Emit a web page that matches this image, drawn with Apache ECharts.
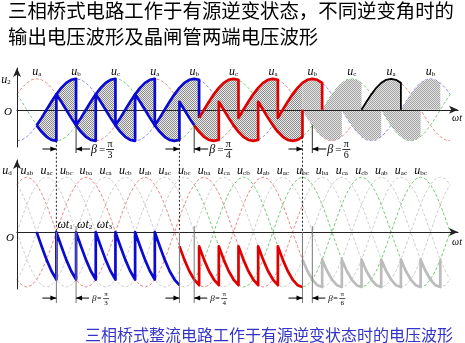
<!DOCTYPE html>
<html><head><meta charset="utf-8">
<script src="https://cdn.jsdelivr.net/npm/echarts@6/dist/echarts.min.js"></script>
<style>html,body{margin:0;padding:0;background:#fff;}#c{width:465px;height:343px;}</style>
</head><body><div id="c"></div>
<script>
// ================= data =================
const titleLines = ['三相桥式电路工作于有源逆变状态，不同逆变角时的', '输出电压波形及晶闸管两端电压波形'];
const captionText = '三相桥式整流电路工作于有源逆变状态时的电压波形';
// one period of a phase voltage, read every 15° (unit = phase peak)
const waveShape = [0, 0.26, 0.5, 0.71, 0.87, 0.97, 1, 0.97, 0.87, 0.71, 0.5, 0.26,
                   0, -0.26, -0.5, -0.71, -0.87, -0.97, -1, -0.97, -0.87, -0.71, -0.5, -0.26];
const stepDeg = 15;
const phaseNames = ['a', 'b', 'c'];
const phaseLag = [0, 120, 240];
const axisTheta = [30, 1374];
const curveTheta = [30, 1350];
const waveStart = 90, waveEnd = 1320;
const initialUpper = 'c', initialLower = 'b';
// commutation (firing) instants, phase taken over, group (P = upper, N = lower)
const firingTheta = [150, 210, 270, 330, 390, 450, 525, 585, 645, 705, 765, 825, 900, 960, 1020, 1080, 1140, 1200, 1260, 1320];
const firingPhase = ['a','c','b','a','c','b','a','c','b','a','c','b','a','c','b','a','c','b','a','c'];
const firingGroup = ['P','N','P','N','P','N','P','N','P','N','P','N','P','N','P','N','P','N','P','N'];
// colour sections
const upperOutlineRanges = [[90, 570], [570, 900]];
const lowerOutlineRanges = [[90, 585], [585, 960]];
const highlightRange = [1080, 1200];
const udRanges = [[90, 525], [525, 900], [900, 1320]];
const shadeRanges = [[90, 900], [900, 1260, 1320]];
// beta marks
const betaFiring = [150, 525, 900];
const betaDeg = [60, 45, 30];
const betaDen = ['3', '4', '6'];
// labels
const phaseLabelTheta = [90, 210, 330, 450, 570, 690, 810, 930, 1050, 1170, 1290];
const phaseLabelName = ['a','b','c','a','b','c','a','b','c','a','b'];
const lineLabelTheta = [60,120,180,240,300,360,420,480,540,600,660,720,780,840,900,960,1020,1080,1140,1200,1260];
const lineLabelName = ['ab','ac','bc','ba','ca','cb','ab','ac','bc','ba','ca','cb','ab','ac','bc','ba','ca','cb','ab','ac','bc'];
const omegaLabelTheta = [150, 210, 270];
const lineNames = ['ab','ac','bc','ba','ca','cb'];
const lineHighlightName = ['ab','ba','bc','cb'];
const lineHighlightRange = [[30, 900], [30, 900], [570, 1350], [570, 1350]];

// ================= styles =================
const C_BLUE = '#0a0ad2', C_RED = '#e00000', C_GRAY = '#bcbcbc';
const phaseDashColor = ['#ea7a7a', '#7a7aea', '#6cc86c'];
const lineDashGray = '#c8c8c8';
const lineHighlightColor = ['#e47a7a', '#e47a7a', '#66c466', '#66c466'];
const phaseLabelLevel = 1.25, lineLabelLevel = 1.96;
const serif = '"Liberation Serif","DejaVu Serif",serif';
const cjk = '"Noto Sans CJK SC","Noto Sans CJK JP",sans-serif';

// ================= build tables =================
function phaseV(ph, t) {
  const k = phaseNames.indexOf(ph);
  const n = waveShape.length;
  let i = Math.round((t - phaseLag[k]) / stepDeg) % n;
  if (i < 0) i += n;
  return waveShape[i];
}
const states = [];
(function () {
  let up = initialUpper, lo = initialLower;
  for (let t = waveStart; t <= waveEnd; t += stepDeg) {
    const f = firingTheta.indexOf(t);
    if (f >= 0) {
      states.push([t, up, lo]);
      if (firingGroup[f] === 'P') up = firingPhase[f]; else lo = firingPhase[f];
    }
    states.push([t, up, lo]);
  }
})();
const uP = states.map(s => [s[0], phaseV(s[1], s[0])]);
const uN = states.map(s => [s[0], phaseV(s[2], s[0])]);
const ud = states.map(s => [s[0], +(phaseV(s[1], s[0]) - phaseV(s[2], s[0])).toFixed(3)]);

function slice(pts, t0, t1, keepEndJump) {
  const out = [];
  for (let i = 0; i < pts.length; i++) {
    const t = pts[i][0];
    if (t < t0 || t > t1) continue;
    if (t === t0 && i + 1 < pts.length && pts[i + 1][0] === t0) continue;
    if (t === t1 && !keepEndJump && i > 0 && pts[i - 1][0] === t1) continue;
    out.push(pts[i]);
  }
  return out;
}
function curve(fn) {
  const out = [];
  for (let t = curveTheta[0]; t <= curveTheta[1]; t += stepDeg) out.push([t, +fn(t).toFixed(3)]);
  return out;
}

// shaded polygons between the upper and lower envelopes
const shadePolys = [
  slice(uP, shadeRanges[0][0], shadeRanges[0][1], false)
    .concat(slice(uN, shadeRanges[0][0], shadeRanges[0][1], false).reverse()),
  slice(uP, shadeRanges[1][0], shadeRanges[1][1], true)
    .concat([[shadeRanges[1][2], 0]])
    .concat(slice(uN, shadeRanges[1][0], shadeRanges[1][2], false).reverse())
];
function makePattern(c1, c2) {
  const cv = document.createElement('canvas');
  cv.width = 2; cv.height = 2;
  const ctx = cv.getContext('2d');
  ctx.fillStyle = c2; ctx.fillRect(0, 0, 2, 2);
  ctx.fillStyle = c1; ctx.fillRect(0, 0, 1, 1); ctx.fillRect(1, 1, 1, 1);
  return {image: cv, repeat: 'repeat'};
}
const shadeFills = [makePattern('#8a8a8a', '#ececec'), makePattern('#a4a4a4', '#e2e2e2')];

// ================= series =================
function lineS(grid, data, color, width, dashed, z) {
  return {type: 'line', xAxisIndex: grid, yAxisIndex: grid, data: data, showSymbol: false, symbol: 'none',
    silent: true, animation: false, z: z, emphasis: {disabled: true},
    lineStyle: {color: color, width: width, type: dashed ? [3, 2] : 'solid', join: 'round', cap: 'butt'}};
}
const series = [];
// top: dashed phase voltages
phaseNames.forEach((ph, k) => series.push(lineS(0, curve(t => phaseV(ph, t)), phaseDashColor[k], 0.9, true, 1)));
// top: shading
series.push({type: 'custom', xAxisIndex: 0, yAxisIndex: 0, z: 2, silent: true, animation: false,
  data: shadePolys.map((p, i) => [p[0][0], 0, i]),
  renderItem: function (params, api) {
    const i = api.value(2);
    return {type: 'polygon', shape: {points: shadePolys[i].map(d => api.coord(d))},
      style: {fill: shadeFills[i], stroke: null}};
  }});
// top: thick outlines
const outlineColors = [C_BLUE, C_RED];
upperOutlineRanges.forEach((r, i) => series.push(lineS(0, slice(uP, r[0], r[1], true), outlineColors[i], 2.7, false, 4)));
lowerOutlineRanges.forEach((r, i) => series.push(lineS(0, slice(uN, r[0], r[1], true), outlineColors[i], 2.7, false, 4)));
series.push(lineS(0, slice(uN, highlightRange[0], highlightRange[1], true), '#000', 1.8, false, 4));

const subRich = {
  u: {fontFamily: serif, fontStyle: 'italic', fontSize: 12, lineHeight: 14, verticalAlign: 'bottom', fill: '#000', color: '#000'},
  s: {fontFamily: serif, fontSize: 7, lineHeight: 9, verticalAlign: 'bottom', fill: '#000', color: '#000'}
};
function textEl(x, y, text, extra) {
  return Object.assign({type: 'text', x: x, y: y, silent: true,
    style: {text: text, rich: subRich, align: 'center', verticalAlign: 'middle', textAlign: 'center', textVerticalAlign: 'middle', fill: '#000'}}, extra || {});
}
series.push({type: 'custom', xAxisIndex: 0, yAxisIndex: 0, z: 5, silent: true, animation: false,
  data: phaseLabelTheta.map((t, i) => [t, phaseLabelLevel, i]),
  renderItem: function (params, api) {
    const p = api.coord([api.value(0), api.value(1)]);
    return textEl(p[0], p[1], '{u|u}{s|' + phaseLabelName[api.value(2)] + '}');
  }});

// bottom: dashed line voltages
lineNames.forEach(nm => {
  const fn = t => phaseV(nm[0], t) - phaseV(nm[1], t);
  const all = curve(fn);
  const h = lineHighlightName.indexOf(nm);
  if (h < 0) { series.push(lineS(1, all, lineDashGray, 0.9, true, 1)); return; }
  const r = lineHighlightRange[h];
  const grayPart = all.map(d => (d[0] < r[0] || d[0] > r[1]) || d[0] === r[0] || d[0] === r[1] ? d : [d[0], '-']);
  series.push(lineS(1, grayPart, lineDashGray, 0.9, true, 1));
  series.push(lineS(1, all.filter(d => d[0] >= r[0] && d[0] <= r[1]), lineHighlightColor[h], 0.9, true, 1));
});
// bottom: output voltage teeth
const udColors = [C_BLUE, C_RED, C_GRAY];
udRanges.forEach((r, i) => series.push(lineS(1, slice(ud, r[0], r[1], i === udRanges.length - 1), udColors[i], 2.7, false, 4)));
series.push({type: 'custom', xAxisIndex: 1, yAxisIndex: 1, z: 5, silent: true, animation: false,
  data: lineLabelTheta.map((t, i) => [t, lineLabelLevel, i]),
  renderItem: function (params, api) {
    const p = api.coord([api.value(0), api.value(1)]);
    return textEl(p[0], p[1], '{u|u}{s|' + lineLabelName[api.value(2)] + '}');
  }});
series.push({type: 'custom', xAxisIndex: 1, yAxisIndex: 1, z: 5, silent: true, animation: false,
  data: omegaLabelTheta.map((t, i) => [t, 0, i]),
  renderItem: function (params, api) {
    const p = api.coord([api.value(0), api.value(1)]);
    return {type: 'text', x: p[0] + 1, y: p[1] - 8, silent: true,
      style: {text: '{u|ωt}{s|' + (api.value(2) + 1) + '}', rich: subRich, align: 'left', verticalAlign: 'middle', textAlign: 'left', textVerticalAlign: 'middle'}};
  }});

function axisX(grid) {
  return {type: 'value', gridIndex: grid, min: axisTheta[0], max: axisTheta[1], z: 3,
    axisLine: {show: true, onZero: true, symbol: ['none', 'arrow'], symbolSize: [6, 9], lineStyle: {color: '#222', width: 1}},
    axisTick: {show: false}, axisLabel: {show: false}, splitLine: {show: false}};
}
function axisY(grid, mn, mx) {
  return {type: 'value', gridIndex: grid, min: mn, max: mx, z: 3,
    axisLine: {show: true, symbol: ['none', 'arrow'], symbolSize: [6, 9], lineStyle: {color: '#222', width: 1}},
    axisTick: {show: false}, axisLabel: {show: false}, splitLine: {show: false}};
}

const chart = echarts.init(document.getElementById('c'), null, {renderer: 'canvas', width: 465, height: 343});
chart.setOption({
  animation: false,
  backgroundColor: '#fff',
  grid: [{left: 17, top: 68, width: 441, height: 79}, {left: 17, top: 160, width: 441, height: 129}],
  xAxis: [axisX(0), axisX(1)],
  yAxis: [axisY(0, -1.2, 1.35), axisY(1, -1.8, 2.28)],
  series: series
});

// ================= annotations (positions via the chart's scales) =================
const g = [];
const P0 = (t, v) => chart.convertToPixel({gridIndex: 0}, [t, v]);
const P1 = (t, v) => chart.convertToPixel({gridIndex: 1}, [t, v]);
function line(x1, y1, x2, y2, color, w, dash) {
  g.push({type: 'line', silent: true, z: 6, shape: {x1, y1, x2, y2},
    style: {stroke: color, lineWidth: w, lineDash: dash || null}});
}
function head(x, y, dir, len, half) {
  g.push({type: 'polygon', silent: true, z: 6, shape: {points: [[x, y], [x - dir * len, y - half], [x - dir * len, y + half]]},
    style: {fill: '#000'}});
}
function txt(x, y, text, size, opts) {
  g.push({type: 'text', silent: true, z: 6, x: x, y: y,
    style: Object.assign({text: text, fontSize: size, fontFamily: serif, fill: '#000',
      align: 'left', verticalAlign: 'middle', textAlign: 'left', textVerticalAlign: 'middle'}, opts || {})});
}
betaFiring.forEach((tf, i) => {
  const tb = tf + betaDeg[i];
  const pre = uP.find(d => d[0] === tf)[1];
  const a = P0(tf, pre), axB = P1(tf, 0), b = P0(tb, -0.5), bAx = P1(tb, 0);
  const xf = a[0], xb = b[0];
  // dotted firing line from the top waveform to the lower axis
  line(xf, a[1], xf, axB[1], '#222', 1, [2, 2]);
  // top beta marker
  const yA = P0(tf, -1.2)[1] + 2;
  line(xf - 14, yA, xf, yA, '#000', 1); head(xf, yA, 1, 6, 2.5);
  line(xb, b[1], xb, yA + 4, '#333', 1);
  line(xb + 14, yA, xb, yA, '#000', 1); head(xb, yA, -1, 6, 2.5);
  txt(xb + 15, yA + 1, 'β', 12, {fontStyle: 'italic'});
  txt(xb + 23, yA + 1, '=', 11);
  txt(xb + 34, yA - 5, 'π', 10, {align: 'center', textAlign: 'center'});
  line(xb + 30, yA + 0.5, xb + 38, yA + 0.5, '#000', 0.8);
  txt(xb + 34, yA + 6.5, betaDen[i], 10, {align: 'center', textAlign: 'center'});
  // bottom beta marker
  const yB = axB[1] + 66;
  line(xf, axB[1], xf, yB + 5, '#777', 1);
  line(xb, bAx[1] - 6, xb, yB + 5, '#777', 1);
  line(xf - 14, yB, xf, yB, '#000', 1); head(xf, yB, 1, 6, 2.5);
  line(xb + 13, yB, xb, yB, '#000', 1); head(xb, yB, -1, 6, 2.5);
  txt(xb + 16, yB + 1, 'β', 9, {fontStyle: 'italic'});
  txt(xb + 21, yB + 1, '=', 8);
  txt(xb + 30, yB - 3.5, 'π', 7, {align: 'center', textAlign: 'center'});
  line(xb + 27, yB + 0.5, xb + 33, yB + 0.5, '#000', 0.7);
  txt(xb + 30, yB + 5, betaDen[i], 7, {align: 'center', textAlign: 'center'});
});
// axis names
const o0 = P0(axisTheta[0], 0), o1 = P1(axisTheta[0], 0);
const e0 = P0(axisTheta[1], 0), e1 = P1(axisTheta[1], 0);
g.push({type: 'text', silent: true, z: 6, x: 6, y: o0[1] - 31, style: {text: '{u|u}{s|2}', rich: subRich, align: 'center', verticalAlign: 'middle', textAlign: 'center', textVerticalAlign: 'middle'}});
g.push({type: 'text', silent: true, z: 6, x: 7, y: o1[1] - 62, style: {text: '{u|u}{s|d}', rich: subRich, align: 'center', verticalAlign: 'middle', textAlign: 'center', textVerticalAlign: 'middle'}});
txt(8, o0[1] + 2, 'O', 11, {fontStyle: 'italic', align: 'center', textAlign: 'center'});
txt(10, o1[1] + 6, 'O', 11, {fontStyle: 'italic', align: 'center', textAlign: 'center'});
txt(e0[0] - 1, e0[1] + 9, 'ωt', 10, {fontStyle: 'italic', align: 'center', textAlign: 'center'});
txt(e1[0] - 1, e1[1] + 10, 'ωt', 10, {fontStyle: 'italic', align: 'center', textAlign: 'center'});
// title & caption
titleLines.forEach((s, i) => g.push({type: 'text', silent: true, x: 8, y: 11 + i * 25.5,
  style: {text: s, fontSize: 19.4, fontFamily: cjk, fill: '#000', align: 'left', verticalAlign: 'middle', textAlign: 'left', textVerticalAlign: 'middle'}}));
g.push({type: 'text', silent: true, x: 85, y: 335,
  style: {text: captionText, fontSize: 16, fontFamily: cjk, fill: '#3434c8', align: 'left', verticalAlign: 'middle', textAlign: 'left', textVerticalAlign: 'middle'}});

chart.setOption({graphic: {elements: g}});
</script>
</body></html>
